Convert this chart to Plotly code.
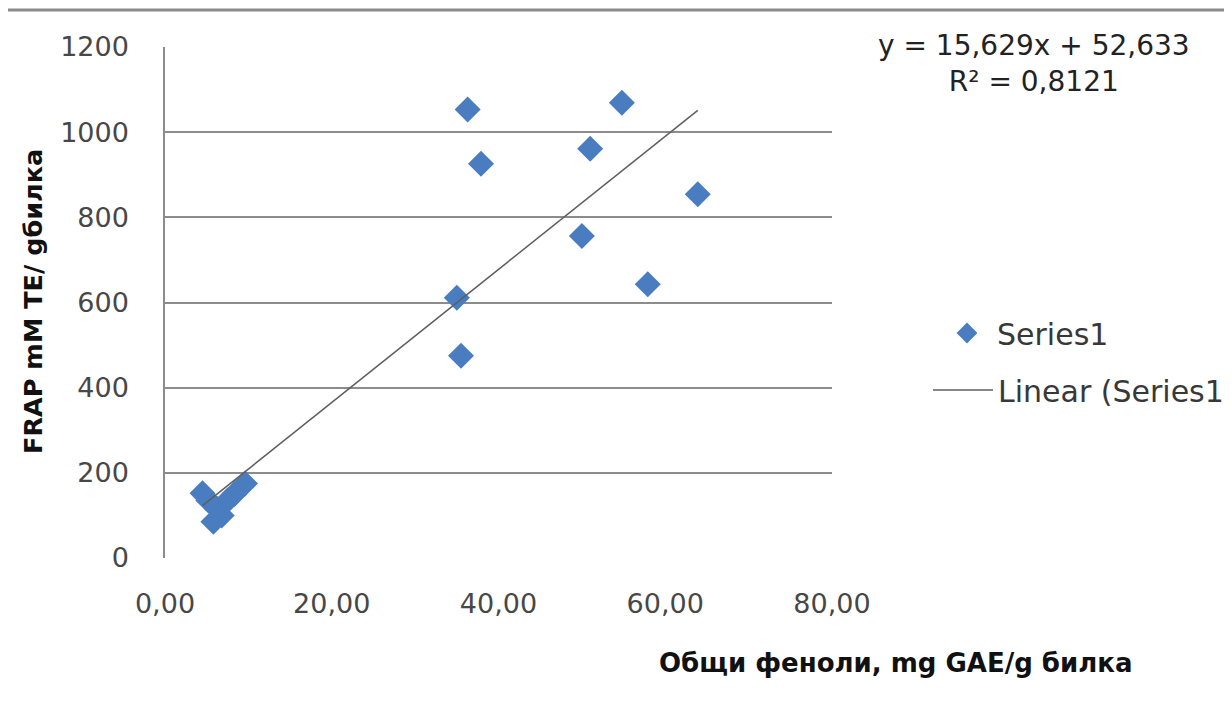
import plotly.graph_objects as go

# Data
phenols = [4.5, 5.2, 5.8, 6.3, 6.8, 7.5, 8.3, 9.6,
           35.0, 35.5, 36.3, 37.9, 50.0, 51.0, 54.8, 57.9, 63.9]
frap = [152, 135, 85, 115, 100, 135, 150, 175,
        611, 475, 1053, 926, 756, 961, 1069, 643, 854]

slope = 15.629
intercept = 52.633
r2_text = "0,8121"

x_ticks = [0, 20, 40, 60, 80]
x_tick_labels = ["0,00", "20,00", "40,00", "60,00", "80,00"]
y_ticks = [0, 200, 400, 600, 800, 1000, 1200]

trend_x = [min(phenols), max(phenols)]
trend_y = [slope * v + intercept for v in trend_x]

FONT = "DejaVu Sans"
TXT = "#474747"
GRID = "#8c8c8c"

# page body has an 8px margin, so the figure is drawn at (8, 8)
L, T, R, B = 157, 39, 400, 150
W, H = 1224, 700
PW = W - L - R   # 667
PH = H - T - B   # 511
X0, Y0 = 8 + L, 8 + T  # plot origin in screen px (165, 47)


def px_x(px):
    return (px - X0) / PW


def px_y(py):
    return 1 - (py - Y0) / PH


fig = go.Figure()
fig.add_trace(go.Scatter(
    x=phenols, y=frap, mode="markers", name="Series1",
    marker=dict(symbol="diamond", size=20, color="#4a7dc0",
                line=dict(width=0)),
    legend="legend",
))
fig.add_trace(go.Scatter(
    x=trend_x, y=trend_y, mode="lines", name="Linear (Series1)",
    line=dict(color="#5f5f5f", width=1.5),
    legend="legend2",
))

fig.update_layout(
    width=W, height=H,
    margin=dict(l=L, r=R, t=T, b=B, autoexpand=False),
    paper_bgcolor="white", plot_bgcolor="white",
    font=dict(family=FONT, size=27, color=TXT),
    showlegend=True,
    legend=dict(x=px_x(937), xanchor="left", y=px_y(333), yanchor="middle",
                itemwidth=50,
                font=dict(family=FONT, size=30, color="#383838"),
                bgcolor="rgba(0,0,0,0)"),
    legend2=dict(x=px_x(928), xanchor="left", y=px_y(390), yanchor="middle",
                 itemwidth=60,
                 font=dict(family=FONT, size=30, color="#383838"),
                 bgcolor="rgba(0,0,0,0)"),
    xaxis=dict(range=[0, 80], tickvals=x_ticks, ticktext=x_tick_labels,
               showgrid=False, zeroline=False, showline=False,
               ticks="outside", ticklen=22, tickcolor="rgba(0,0,0,0)",
               tickfont=dict(family=FONT, size=27, color=TXT)),
    yaxis=dict(range=[0, 1200], tickvals=y_ticks,
               showgrid=True, gridcolor=GRID, gridwidth=1.5,
               zeroline=False, showline=True, linecolor=GRID, linewidth=1.5,
               ticks="outside", ticklen=29, tickcolor="rgba(0,0,0,0)",
               tickfont=dict(family=FONT, size=27, color=TXT)),
)

fig.add_annotation(
    text="<b>FRAP mM TE/ gбилка</b>", textangle=-90,
    xref="paper", yref="paper", x=px_x(33), y=px_y(302),
    xanchor="center", yanchor="middle", showarrow=False,
    font=dict(family=FONT, size=25.5, color="#111111"),
)
fig.add_annotation(
    text="<b>Общи феноли, mg GAE/g билка</b>",
    xref="paper", yref="paper", x=px_x(895), y=px_y(663),
    xanchor="center", yanchor="middle", showarrow=False,
    font=dict(family=FONT, size=26, color="#111111"),
)
fig.add_annotation(
    text=f"y = {str(slope).replace('.', ',')}x + {str(intercept).replace('.', ',')}<br>R² = {r2_text}",
    xref="paper", yref="paper", x=px_x(1034), y=px_y(64),
    xanchor="center", yanchor="middle", showarrow=False, align="center",
    font=dict(family=FONT, size=28, color="#222222"),
)
# top border line of the picture
fig.add_shape(type="line", xref="paper", yref="paper",
              x0=px_x(0), x1=px_x(1240),
              y0=px_y(10), y1=px_y(10),
              line=dict(color="#8a8a8a", width=3))

fig.write_html("out.html")
